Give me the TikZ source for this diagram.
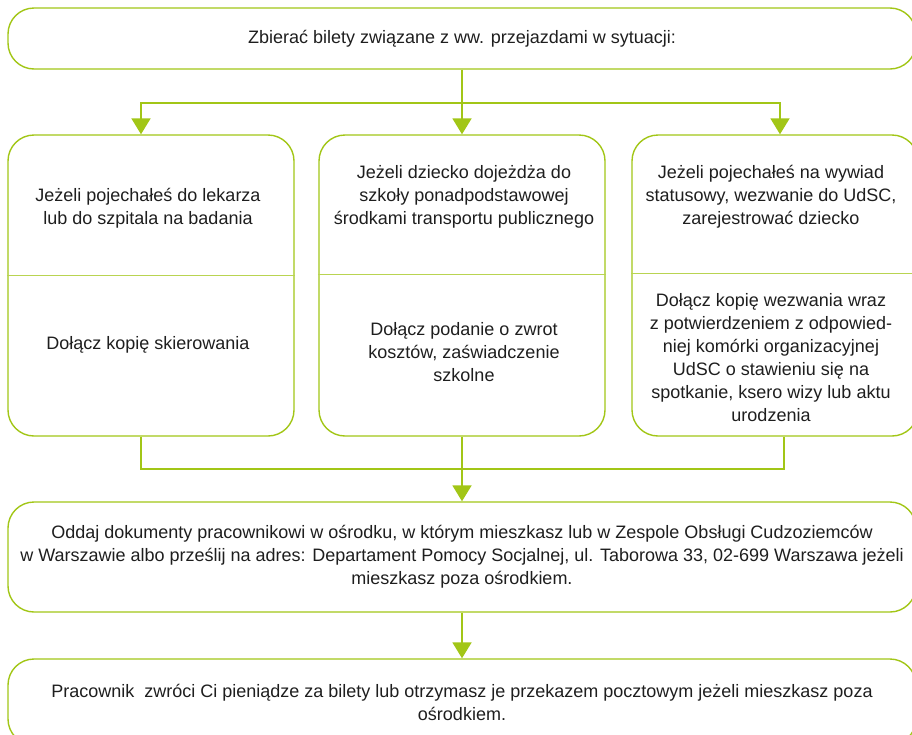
\documentclass[tikz,border=0pt]{standalone}
\usepackage{fontspec}
\setmainfont{Liberation Sans}
\usepackage{tikz}
\usetikzlibrary{arrows.meta}
\definecolor{leaf}{HTML}{A2C617}
\definecolor{ink}{HTML}{1E1E1E}

\begin{document}
\begin{tikzpicture}[x=1pt,y=-1pt,
	box/.style={shape=rectangle,draw=leaf,line width=1.4pt,rounded corners=26pt,inner sep=0pt},
	txt/.style={align=center,text=ink,font=\fontsize{18}{23}\selectfont},
	link/.style={draw=leaf,line width=2pt},
	arrow/.style={link,-{Triangle[width=19pt,length=16pt]}},
	divider/.style={draw=leaf!75,line width=1pt}]
	\useasboundingbox (0,0) rectangle (912,734);
	\clip (0,0) rectangle (912,734);

	\node[box,txt,minimum width=908pt,minimum height=61pt] (top) at (462,38.5) {Zbierać bilety związane z ww. przejazdami w sytuacji:};

	\node[box,minimum width=286pt,minimum height=301pt] (b1) at (151,285.5) {};
	\node[box,minimum width=286pt,minimum height=301pt] (b2) at (462,285.5) {};
	\node[box,minimum width=286pt,minimum height=301pt] (b3) at (775,285.5) {};

	\draw[divider] (b1.west |- 0,275) -- (b1.east |- 0,275);
	\draw[divider] (b2.west |- 0,274) -- (b2.east |- 0,274);
	\draw[divider] (b3.west |- 0,273) -- (b3.east |- 0,273);

	\node[txt] (ask1) at (148,208) {Jeżeli pojechałeś do lekarza\\ lub do szpitala na badania};
	\node[txt] (ask2) at (464,197) {Jeżeli dziecko dojeżdża do\\szkoły ponadpodstawowej\\środkami transportu publicznego};
	\node[txt] (ask3) at (771,197) {Jeżeli pojechałeś na wywiad\\statusowy, wezwanie do UdSC,\\zarejestrować dziecko};

	\node[txt] (need1) at (148,345) {Dołącz kopię skierowania};
	\node[txt] (need2) at (464,352) {Dołącz podanie o zwrot\\kosztów, zaświadczenie\\szkolne};
	\node[txt] (need3) at (771,358) {Dołącz kopię wezwania wraz\\z potwierdzeniem z odpowied-\\niej komórki organizacyjnej\\UdSC o stawieniu się na\\spotkanie, ksero wizy lub aktu\\urodzenia};

	\node[box,txt,minimum width=908pt,minimum height=110pt] (hand) at (462,557) {Oddaj dokumenty pracownikowi w ośrodku, w którym mieszkasz lub w Zespole Obsługi Cudzoziemców\\w Warszawie albo prześlij na adres: Departament Pomocy Socjalnej, ul. Taborowa 33, 02-699 Warszawa jeżeli\\mieszkasz poza ośrodkiem.};
	\node[box,txt,minimum width=908pt,minimum height=86pt] (refund) at (462,702) {Pracownik~ zwróci Ci pieniądze za bilety lub otrzymasz je przekazem pocztowym jeżeli mieszkasz poza\\ośrodkiem.};

	\coordinate (fork) at (462,103);
	\coordinate (merge) at (462,469);

	\draw[arrow] (top.south) -- (b2.north);
	\draw[arrow] (fork) -| ([xshift=-10pt]b1.north);
	\draw[arrow] (fork) -| ([xshift=5pt]b3.north);

	\draw[link] ([xshift=-10pt]b1.south) |- (merge) -| ([xshift=9pt]b3.south);
	\draw[arrow] (b2.south) -- (hand.north);
	\draw[arrow] (hand.south) -- (refund.north);
\end{tikzpicture}
\end{document}
